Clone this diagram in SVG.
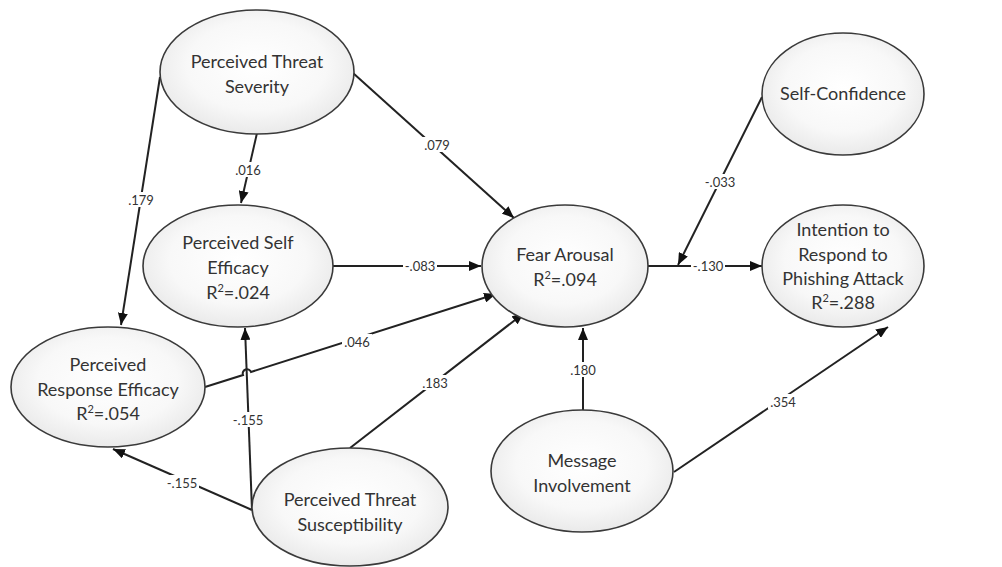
<svg xmlns="http://www.w3.org/2000/svg" width="1002" height="567" viewBox="0 0 1002 567">
<defs>
<radialGradient id="g" cx="50%" cy="45%" r="60%">
<stop offset="0" stop-color="#ffffff"/>
<stop offset="0.6" stop-color="#f8f8f8"/>
<stop offset="1" stop-color="#e6e6e6"/>
</radialGradient>
<marker id="ah" viewBox="0 0 12 10" refX="12" refY="5" markerWidth="12" markerHeight="10" markerUnits="userSpaceOnUse" orient="auto">
<path d="M0,0 L12,5 L0,10 z" fill="#111"/>
</marker>
</defs>
<style>
.n ellipse{fill:url(#g);stroke:#3a3a3a;stroke-width:1.6}
.n text{font-family:Lato,"Open Sans","Liberation Sans",sans-serif;font-size:18px;fill:#333;text-anchor:middle}
.c path{fill:none;stroke:#222;stroke-width:2}
.c .a{marker-end:url(#ah)}
.l text{font-family:Lato,"Liberation Sans",sans-serif;font-size:13px;fill:#333;text-anchor:middle}
.l rect{fill:#fff}
</style>
<rect width="1002" height="567" fill="#fff"/>
<g class="c" id="connectors">
<path class="a" d="M257,133 L241,203"/>
<path class="a" d="M160,77 L121,325"/>
<path class="a" d="M353,73 L514,218"/>
<path class="a" d="M333,266 L481,266"/>
<path class="a" d="M205,387 L243,375 A4,4 0 0 1 251,372 L496,294"/>
<path class="a" d="M252,510 L245,328"/>
<path class="a" d="M252,510 L113,449"/>
<path class="a" d="M350,448 L524,313"/>
<path class="a" d="M583,410 L583,328"/>
<path class="a" d="M674,472 L888,327"/>
<path d="M648,266 L688,266"/>
<path class="a" d="M688,266 L762,266"/>
<path class="a" d="M762,97 L678,265"/>
</g>
<g class="l" id="labels">
<rect x="233" y="162" width="30" height="15"/><text x="248" y="175">.016</text>
<rect x="126" y="192" width="30" height="15"/><text x="141" y="205">.179</text>
<rect x="422" y="137" width="30" height="15"/><text x="437" y="150">.079</text>
<rect x="403" y="258" width="34" height="15"/><text x="420" y="271">-.083</text>
<rect x="342" y="334" width="30" height="15"/><text x="357" y="347">.046</text>
<rect x="231" y="412" width="34" height="15"/><text x="248" y="425">-.155</text>
<rect x="165" y="475" width="34" height="15"/><text x="182" y="488">-.155</text>
<rect x="420" y="375" width="30" height="15"/><text x="435" y="388">.183</text>
<rect x="568" y="362" width="30" height="15"/><text x="583" y="375">.180</text>
<rect x="768" y="394" width="30" height="15"/><text x="783" y="407">.354</text>
<rect x="691" y="258" width="34" height="15"/><text x="708" y="271">-.130</text>
<rect x="703" y="174" width="34" height="15"/><text x="720" y="187">-.033</text>
</g>
<g class="n" id="pts"><ellipse cx="257" cy="72" rx="97" ry="62"/><text x="257" y="68">Perceived Threat</text><text x="257" y="93">Severity</text></g>
<g class="n" id="pse"><ellipse cx="238" cy="266" rx="95" ry="61"/><text x="238" y="249">Perceived Self</text><text x="238" y="274">Efficacy</text><text x="238" y="299">R<tspan font-size="11" dy="-7">2</tspan><tspan dy="7">=.024</tspan></text></g>
<g class="n" id="pre"><ellipse cx="108" cy="387" rx="97" ry="60"/><text x="108" y="371">Perceived</text><text x="108" y="396">Response Efficacy</text><text x="108" y="420">R<tspan font-size="11" dy="-7">2</tspan><tspan dy="7">=.054</tspan></text></g>
<g class="n" id="ptsus"><ellipse cx="350" cy="507" rx="98" ry="59"/><text x="350" y="506">Perceived Threat</text><text x="350" y="531">Susceptibility</text></g>
<g class="n" id="fear"><ellipse cx="565" cy="266" rx="83" ry="61"/><text x="565" y="261">Fear Arousal</text><text x="565" y="286">R<tspan font-size="11" dy="-7">2</tspan><tspan dy="7">=.094</tspan></text></g>
<g class="n" id="sc"><ellipse cx="843" cy="94" rx="81" ry="61"/><text x="843" y="100">Self-Confidence</text></g>
<g class="n" id="int"><ellipse cx="843" cy="266" rx="81" ry="61"/><text x="843" y="236">Intention to</text><text x="843" y="261">Respond to</text><text x="843" y="285">Phishing Attack</text><text x="843" y="309">R<tspan font-size="11" dy="-7">2</tspan><tspan dy="7">=.288</tspan></text></g>
<g class="n" id="mi"><ellipse cx="582" cy="471" rx="91" ry="61"/><text x="582" y="467">Message</text><text x="582" y="492">Involvement</text></g>
</svg>
